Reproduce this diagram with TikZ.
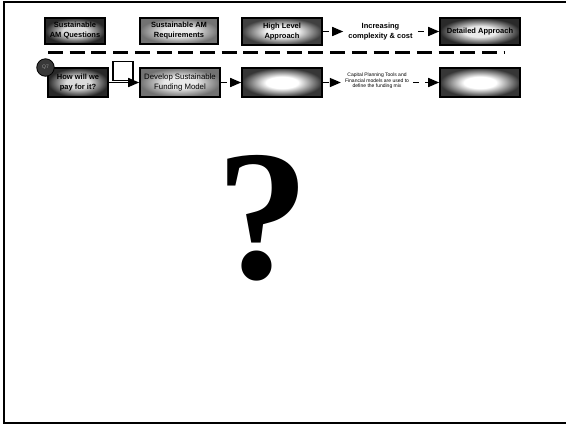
\documentclass[tikz,border=0pt]{standalone}
\usepackage{fontspec}
\setmainfont{Liberation Sans}
\newfontfamily\serifq{Liberation Serif}
\usetikzlibrary{arrows.meta}
\definecolor{dkout}{HTML}{282828}
\definecolor{dkin}{HTML}{DADADA}
\definecolor{mdout}{HTML}{727272}
\definecolor{mdin}{HTML}{E8E8E8}
\definecolor{hlout}{HTML}{404040}
\definecolor{hlin}{HTML}{F2F2F2}
\definecolor{daout}{HTML}{2A2A2A}
\definecolor{dain}{HTML}{EAEAEA}
\definecolor{emout}{HTML}{363636}
\definecolor{emin}{HTML}{FFFFFF}
\definecolor{qfill}{HTML}{383838}
\definecolor{qtext}{HTML}{9A9A9A}
\newcommand\myboxshade[3]{\pgfdeclareradialshading{#1}{\pgfpointorigin}{color(0bp)=(#2); color(10bp)=(#2); color(25bp)=(#3); color(50bp)=(#3)}}
\myboxshade{shdark}{dkin}{dkout}
\myboxshade{shmed}{mdin}{mdout}
\myboxshade{shhl}{hlin}{hlout}
\myboxshade{shdet}{dain}{daout}
\myboxshade{shempty}{emin}{emout}
\begin{document}
\begin{tikzpicture}[x=1pt,y=-1pt,
  box/.style={draw=black, line width=1.6pt, inner sep=0pt, align=center,
    font=\bfseries\fontsize{7.5}{10}\selectfont},
  rowone/.style={box, minimum width=80pt, minimum height=27pt},
  rowtwo/.style={box, minimum width=80pt, minimum height=29pt},
  darkbox/.style={shading=shdark},
  medbox/.style={shading=shmed},
  hlbox/.style={shading=shhl},
  detbox/.style={shading=shdet},
  emptybox/.style={shading=shempty},
  conn/.style={line width=1.5pt, -{Triangle[length=11pt,width=9pt]}},
  dconn/.style={conn, dash pattern=on 6pt off 6pt},
  sep/.style={line width=3pt, dash pattern=on 15pt off 6.7pt},
  frame/.style={line width=2pt}
]
\useasboundingbox (0,0) rectangle (566,424);
% frame
\coordinate (f1) at (566,2);
\coordinate (f2) at (3.5,2);
\coordinate (f3) at (3.5,422.5);
\coordinate (f4) at (566,422.5);
\draw[frame] (f1) -- (f2) -- (f3) -- (f4);

% row one
\node[box, darkbox, minimum width=60pt, minimum height=26pt] (b1) at (75,31) {Sustainable\\AM Questions};
\node[box, medbox, minimum width=78pt, minimum height=26pt] (b2) at (179,31) {Sustainable AM\\Requirements};
\node[rowone, hlbox] (b3) at (282,31.5) {High Level\\Approach};
\node[align=center, inner sep=5pt, font=\bfseries\fontsize{7.5}{10}\selectfont] (inc) at (380.5,31.5) {Increasing\\complexity \& cost};
\node[rowone, detbox] (b5) at (480,31.5) {Detailed Approach};
\draw[dconn] (b3) -- (inc);
\draw[dconn] (inc) -- (b5);

% separator
\coordinate (s1) at (48,52);
\coordinate (s2) at (504,52);
\draw[sep] (s1) -- (s2);

% row two
\node[rowtwo, darkbox, minimum width=60pt] (how) at (78,82.5) {How will we\\pay for it?};
\node[circle, draw=black, line width=0.8pt, fill=qfill, minimum size=17.5pt, inner sep=0pt,
  text=qtext, font=\fontsize{5}{6}\selectfont] (q7) at (45.5,67.5) {Q7};
\node[draw=black, line width=1.6pt, fill=white, minimum width=20pt, minimum height=19pt, inner sep=0pt] (sq) at (123,71) {};
\node[rowtwo, medbox, font=\fontsize{7.8}{10.5}\selectfont] (dev) at (180,82.5) {Develop Sustainable\\Funding Model};
\node[rowtwo, emptybox] (e1) at (282,82.5) {};
\node[align=center, inner sep=4pt, font=\fontsize{5}{5.5}\selectfont] (cap) at (377,81) {Capital Planning Tools and\\Financial models are used to\\define the funding mix};
\node[rowtwo, emptybox] (e2) at (480,82.5) {};
\draw[conn] (how) -- (dev);
\draw[dconn] (dev) -- (e1);
\draw[dconn] (e1.east) -- (e1.east -| cap.west);
\draw[dconn] (cap.east |- e2.west) -- (e2.west);

% question mark
\node[anchor=base, inner sep=0pt, font=\serifq\bfseries\fontsize{186}{186}\selectfont] (qm) at (263,278) {?};
\end{tikzpicture}
\end{document}
